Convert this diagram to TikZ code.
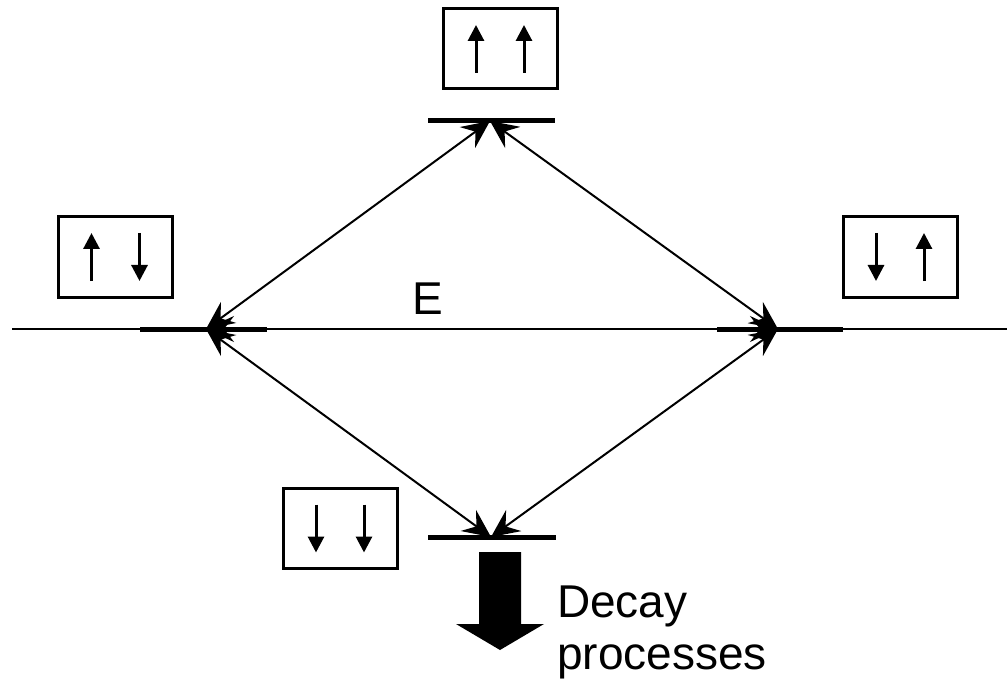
\documentclass[tikz,border=0pt]{standalone}
\usepackage{fontspec}
\setmainfont{Liberation Sans}
\usetikzlibrary{arrows.meta}

\tikzset{
  spinbox/.style={draw, line width=3pt, minimum width=114pt, minimum height=80pt, inner sep=0pt},
  level/.style={line width=5pt},
  baseline level/.style={line width=2pt},
  trans/.style={line width=2pt, {Stealth[length=28pt,width=26pt,inset=10pt]}-{Stealth[length=28pt,width=26pt,inset=10pt]}},
  spin/.style={line width=3pt, -{Triangle[length=16pt,width=16pt]}},
  label/.style={font=\fontsize{46}{55}\selectfont, inner sep=0pt},
}
% spin arrows inside a box: #1 box, #2 horizontal offset
\newcommand{\spinup}[2]{\draw[spin] ([xshift=#2,yshift=-24pt]#1.center) -- ([xshift=#2,yshift=24pt]#1.center);}
\newcommand{\spindown}[2]{\draw[spin] ([xshift=#2,yshift=24pt]#1.center) -- ([xshift=#2,yshift=-24pt]#1.center);}

\begin{document}
\begin{tikzpicture}[x=1pt,y=-1pt]
\useasboundingbox (0,0) rectangle (1007,687);

% the four levels
\path (490,121) coordinate (uu)
      (206,329) coordinate (ud)
      (778,329) coordinate (du)
      (491,537) coordinate (dd);

% spin configurations
\path (500,49) node[spinbox] (box uu) {}
      (115.5,257) node[spinbox] (box ud) {}
      (900,257) node[spinbox] (box du) {}
      (340,528.5) node[spinbox] (box dd) {};

\spinup{box uu}{-24pt} \spinup{box uu}{24pt}
\spinup{box ud}{-24pt} \spindown{box ud}{24pt}
\spindown{box du}{-24pt} \spinup{box du}{24pt}
\spindown{box dd}{-24pt} \spindown{box dd}{24pt}

\draw[baseline level] (12,329) -- (1007,329);
\draw[level] ([xshift=-62pt]uu) -- ([xshift=65pt]uu);
\draw[level] ([xshift=-66pt]ud) -- ([xshift=61pt]ud);
\draw[level] ([xshift=-61pt]du) -- ([xshift=65pt]du);
\draw[level] ([xshift=-63pt]dd) -- ([xshift=65pt]dd);

% transitions
\draw[trans] (uu) -- (ud);
\draw[trans] (uu) -- (du);
\draw[trans] (ud) -- (du);
\draw[trans] (ud) -- (dd);
\draw[trans] (du) -- (dd);

\path (428,314) node[label, anchor=base] (energy) {E};

% decay out of the lowest level
\fill (479,552) -- (521,552) -- (521,624) -- (544,624) -- (500,650)
      -- (456,624) -- (479,624) -- cycle;
\path (557,617) node[label, anchor=base west] (decay) {Decay}
      (557,669) node[label, anchor=base west] (proc) {processes};
\end{tikzpicture}
\end{document}
